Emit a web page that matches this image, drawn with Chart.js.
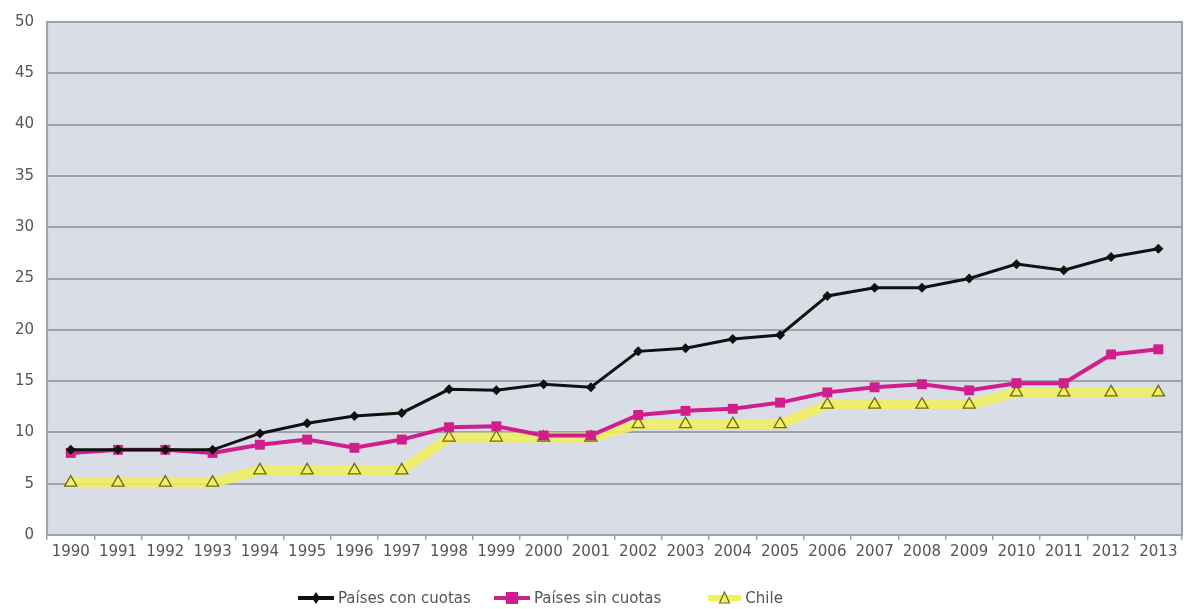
<!DOCTYPE html>
<html>
<head>
<meta charset="utf-8">
<script src="https://cdn.jsdelivr.net/npm/chart.js@4.4.1/dist/chart.umd.min.js"></script>
<style>
  html, body { margin: 0; padding: 0; background: #fff; }
  #wrap { position: relative; width: 1184px; height: 609px; }
  #chart { display: block; }
  #leyenda { position: absolute; left: 297px; top: 589px; display: flex; align-items: center;
    font-family: 'DejaVu Sans', sans-serif; font-size: 15px; color: #555; line-height: 18px; }
  #leyenda .item { display: flex; align-items: center; margin-right: 22px; }
  #leyenda .item:nth-child(2) { margin-right: 46px; }
  #leyenda canvas { margin-right: 3px; }
</style>
</head>
<body>
<div id="wrap">
  <canvas id="chart" width="1184" height="609"></canvas>
  <div id="leyenda"></div>
</div>
<script>
// Datos
const anios = ['1990','1991','1992','1993','1994','1995','1996','1997','1998','1999','2000','2001',
  '2002','2003','2004','2005','2006','2007','2008','2009','2010','2011','2012','2013'];
const conCuotas = [8.3, 8.3, 8.3, 8.3, 9.9, 10.9, 11.6, 11.9, 14.2, 14.1, 14.7, 14.4,
  17.9, 18.2, 19.1, 19.5, 23.3, 24.1, 24.1, 25.0, 26.4, 25.8, 27.1, 27.9];
const sinCuotas = [8.0, 8.3, 8.3, 8.0, 8.8, 9.3, 8.5, 9.3, 10.5, 10.6, 9.7, 9.7,
  11.7, 12.1, 12.3, 12.9, 13.9, 14.4, 14.7, 14.1, 14.8, 14.8, 17.6, 18.1];
const chile = [5.1, 5.1, 5.1, 5.1, 6.3, 6.3, 6.3, 6.3, 9.5, 9.5, 9.5, 9.5,
  10.8, 10.8, 10.8, 10.8, 12.7, 12.7, 12.7, 12.7, 13.9, 13.9, 13.9, 13.9];
const series = ['Países con cuotas', 'Países sin cuotas', 'Chile'];
const yTicks = [0, 5, 10, 15, 20, 25, 30, 35, 40, 45, 50];

// los marcadores quedan dentro del área (offset), no hace falta margen extra
Chart.LineController.prototype.getMaxOverflow = () => 0;

// Icono de leyenda: línea con marcador al centro
function legendIcon(kind) {
  const c = document.createElement('canvas');
  const w = kind === 'chile' ? 35 : 38;
  c.width = w; c.height = 16;
  const g = c.getContext('2d');
  const m = w / 2;
  if (kind === 'chile') {
    g.strokeStyle = 'rgba(240,240,70,0.9)'; g.lineWidth = 6;
  } else if (kind === 'sin') {
    g.strokeStyle = '#d01f8c'; g.lineWidth = 4;
  } else {
    g.strokeStyle = '#111'; g.lineWidth = 4;
  }
  g.beginPath(); g.moveTo(1, 8); g.lineTo(w - 1, 8); g.stroke();
  if (kind === 'con') {
    g.fillStyle = '#111';
    g.beginPath(); g.moveTo(m, 2); g.lineTo(m + 4, 8); g.lineTo(m, 14); g.lineTo(m - 4, 8); g.closePath(); g.fill();
  } else if (kind === 'sin') {
    g.fillStyle = '#d01f8c'; g.fillRect(m - 6, 2, 12, 12);
  } else {
    g.fillStyle = '#f4ee6a'; g.strokeStyle = '#6e6a12'; g.lineWidth = 1.2;
    g.beginPath(); g.moveTo(m, 2); g.lineTo(m + 5, 13); g.lineTo(m - 5, 13); g.closePath(); g.fill(); g.stroke();
  }
  return c;
}
const leyenda = document.getElementById('leyenda');
['con', 'sin', 'chile'].forEach((k, i) => {
  const item = document.createElement('div');
  item.className = 'item';
  item.appendChild(legendIcon(k));
  const span = document.createElement('span');
  span.textContent = series[i];
  item.appendChild(span);
  leyenda.appendChild(item);
});

// Fondo del área de trazado
const fondo = {
  id: 'fondo',
  beforeDraw(chart) {
    const { ctx, chartArea: a } = chart;
    ctx.save();
    ctx.fillStyle = '#d9dde6';
    ctx.fillRect(a.left, a.top, a.right - a.left, a.bottom - a.top);
    ctx.strokeStyle = '#9ea3ab';
    ctx.lineWidth = 2;
    ctx.strokeRect(a.left, a.top, a.right - a.left, a.bottom - a.top);
    ctx.restore();
  }
};

const ctx = document.getElementById('chart').getContext('2d');
new Chart(ctx, {
  type: 'line',
  data: {
    labels: anios,
    datasets: [
      {
        label: series[0],
        data: conCuotas,
        borderColor: '#111',
        backgroundColor: '#111',
        borderWidth: 3,
        pointStyle: 'rectRot',
        pointRadius: 5,
        pointBorderWidth: 0,
        tension: 0,
        order: 1
      },
      {
        label: series[1],
        data: sinCuotas,
        borderColor: '#d01f8c',
        backgroundColor: '#d01f8c',
        borderWidth: 4,
        pointStyle: 'rect',
        pointRadius: 7,
        pointBorderWidth: 0,
        tension: 0,
        order: 2
      },
      {
        label: series[2],
        data: chile,
        borderColor: 'rgba(242,240,90,0.85)',
        backgroundColor: '#f4ee6a',
        pointBackgroundColor: '#f4ee6a',
        pointBorderColor: '#6e6a12',
        borderWidth: 10,
        pointStyle: 'triangle',
        pointRadius: 7,
        pointBorderWidth: 1.3,
        tension: 0,
        order: 3
      }
    ]
  },
  plugins: [fondo],
  options: {
    responsive: false,
    animation: false,
    layout: { padding: { left: 2, right: 2, top: 17, bottom: 45 } },
    plugins: {
      tooltip: { enabled: false },
      legend: { display: false }
    },
    scales: {
      x: {
        offset: true,
        afterFit(scale) { scale.paddingLeft = 0; scale.paddingRight = 0; },
        grid: { display: true, drawOnChartArea: false, offset: true, tickLength: 5, color: '#9ea3ab', lineWidth: 1.5 },
        border: { color: '#9ea3ab', width: 2 },
        ticks: {
          color: '#555',
          font: { family: 'DejaVu Sans, sans-serif', size: 15 },
          maxRotation: 0,
          autoSkip: false,
          padding: 3
        }
      },
      y: {
        min: 0,
        max: 50,
        afterBuildTicks(axis) { axis.ticks = yTicks.map(v => ({ value: v })); },
        grid: { color: '#9ea3ab', lineWidth: 2, drawTicks: false },
        border: { color: '#9ea3ab', width: 2 },
        ticks: {
          color: '#555',
          font: { family: 'DejaVu Sans, sans-serif', size: 15 },
          padding: 13
        }
      }
    }
  }
});
</script>
</body>
</html>
